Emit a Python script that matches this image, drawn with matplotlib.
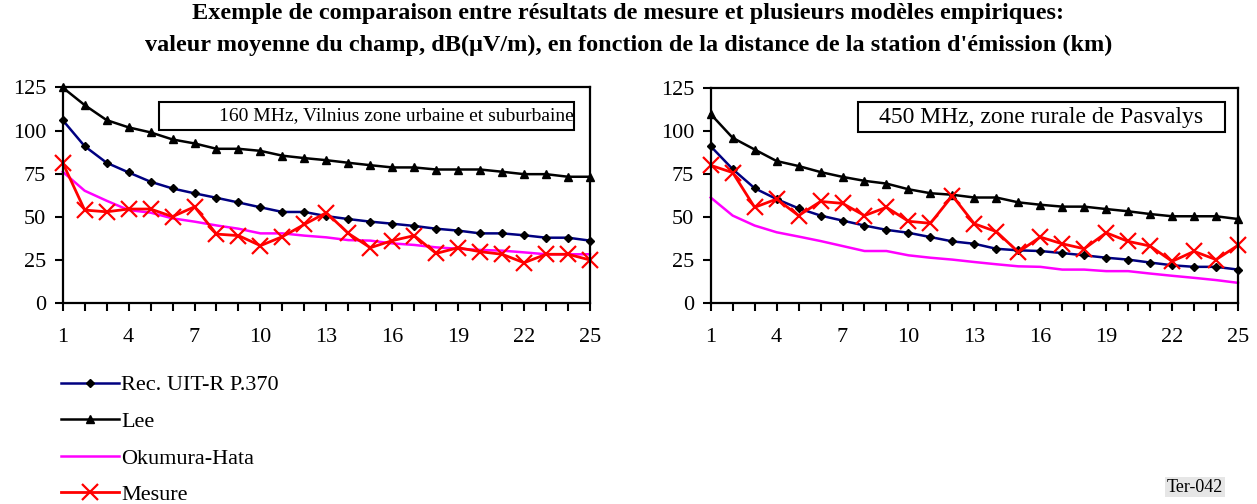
import matplotlib
matplotlib.use("Agg")
from matplotlib import pyplot as plt
from matplotlib.patches import Rectangle

plt.rcParams['font.family'] = ['Liberation Serif', 'DejaVu Serif']

dist_km = list(range(1, 26))
x_tick_labels = [str(d) if (d - 1) % 3 == 0 else '' for d in dist_km]

# 160 MHz, Vilnius
rec370_160 = [106.1, 91.0, 81.4, 75.8, 70.4, 66.5, 63.7, 61.1, 58.4, 55.6, 52.9, 52.9, 50.5,
              48.8, 47.3, 46.1, 44.8, 43.2, 42.1, 40.5, 40.5, 39.4, 38.0, 38.0, 36.3]
lee_160 = [125.0, 114.8, 106.1, 101.9, 99.0, 94.9, 92.6, 89.5, 89.5, 88.3, 85.5, 84.1, 82.9,
           81.4, 80.0, 78.7, 78.7, 77.5, 77.5, 77.5, 76.2, 74.8, 74.8, 73.3, 73.3]
hata_160 = [76.2, 65.2, 59.4, 54.0, 52.5, 49.2, 47.3, 45.1, 43.2, 40.5, 40.5, 39.2, 38.2,
            36.6, 36.3, 34.7, 33.8, 32.4, 31.6, 30.9, 30.5, 29.5, 28.4, 28.4, 28.4]
mesure_160 = [81.4, 54.0, 53.0, 54.6, 54.6, 50.2, 55.9, 40.1, 39.2, 33.4, 38.6, 45.7, 52.5,
              40.5, 32.2, 36.3, 39.2, 28.9, 32.2, 29.9, 28.4, 23.5, 28.4, 28.4, 25.1]

# 450 MHz, Pasvalys
rec370_450 = [91.3, 78.0, 66.9, 60.6, 55.2, 51.0, 48.1, 45.2, 42.7, 41.0, 38.5, 36.0, 34.6,
              31.7, 30.8, 30.4, 29.2, 27.9, 26.5, 25.4, 23.7, 22.1, 21.2, 21.2, 19.6]
lee_450 = [110.0, 96.2, 89.4, 82.7, 79.8, 76.3, 73.5, 71.2, 69.6, 66.3, 64.0, 63.1, 61.5,
           61.5, 58.7, 57.3, 56.2, 56.2, 54.8, 53.5, 51.9, 50.6, 50.6, 50.6, 49.0]
hata_450 = [61.5, 51.0, 45.2, 41.3, 38.8, 36.2, 33.3, 30.4, 30.4, 27.9, 26.5, 25.4, 24.0,
            22.7, 21.5, 21.2, 19.6, 19.6, 18.7, 18.7, 17.3, 16.0, 14.8, 13.5, 11.9]
mesure_450 = [80.2, 76.0, 55.8, 60.6, 51.0, 59.2, 58.1, 51.0, 55.8, 47.7, 46.5, 62.5, 46.2,
              41.7, 29.8, 38.5, 34.6, 31.7, 41.0, 36.0, 33.3, 24.4, 30.2, 25.4, 33.7]

W, H = 1257, 504
fig = plt.figure(figsize=(W / 100, H / 100), dpi=100)


def fx(px):
    return px / W


def fy(py):
    return 1 - py / H


def draw_panel(ax, rec, lee, hata, mes):
    ax.plot(dist_km, rec, color='#000080', lw=1.8, marker='D', ms=4.5,
            mfc='black', mec='black', clip_on=False, label='Rec. UIT-R P.370')
    ax.plot(dist_km, lee, color='black', lw=1.8, marker='^', ms=6,
            mfc='black', mec='black', clip_on=False, label='Lee')
    ax.plot(dist_km, hata, color='#FF00FF', lw=1.8, clip_on=False, label='Okumura-Hata')
    ax.plot(dist_km, mes, color='#FF0000', lw=2.0, marker='x', ms=11, mew=1.6,
            clip_on=False, label='Mesure')
    ax.set_xlim(1, 25)
    ax.set_ylim(0, 125)
    ax.set_xticks(dist_km)
    ax.set_xticklabels(x_tick_labels)
    ax.set_yticks([0, 25, 50, 75, 100, 125])
    ax.tick_params(direction='out', length=6, width=1.5, labelsize=16)
    ax.tick_params(axis='x', pad=12)
    ax.tick_params(axis='y', pad=6)
    for s in ax.spines.values():
        s.set_linewidth(1.6)


ax1 = fig.add_axes([fx(62.7), fy(303.3), fx(590 - 62.7), (303.3 - 87.5) / H])
draw_panel(ax1, rec370_160, lee_160, hata_160, mesure_160)
ax2 = fig.add_axes([fx(710.7), fy(303.3), fx(1238 - 710.7), (303.3 - 88.3) / H])
draw_panel(ax2, rec370_450, lee_450, hata_450, mesure_450)

# label boxes
fig.add_artist(Rectangle((fx(159), fy(130)), fx(574 - 159), (130 - 102) / H,
                         fill=False, lw=1.5, ec='black', transform=fig.transFigure))
fig.text(fx(574), fy(116), '160 MHz, Vilnius zone urbaine et suburbaine',
         ha='right', va='center', fontsize=14)
fig.add_artist(Rectangle((fx(858), fy(132)), fx(1225 - 858), (132 - 102) / H,
                         fill=False, lw=1.5, ec='black', transform=fig.transFigure))
fig.text(fx(1041), fy(117), '450 MHz, zone rurale de Pasvalys',
         ha='center', va='center', fontsize=17)

fig.text(0.5, fy(14), 'Exemple de comparaison entre résultats de mesure et plusieurs modèles empiriques:',
         ha='center', va='center', fontsize=17.5, fontweight='bold')
fig.text(0.5, fy(45), "valeur moyenne du champ, dB(\u03bcV/m), en fonction de la distance de la station d'émission (km)",
         ha='center', va='center', fontsize=17.5, fontweight='bold')

handles, labels = ax1.get_legend_handles_labels()
fig.legend(handles, labels, loc='upper left', bbox_to_anchor=(fx(52), fy(366)),
           frameon=False, fontsize=16, handlelength=2.6, handletextpad=0.1,
           labelspacing=0.72, borderaxespad=0)

fig.text(fx(1195), fy(487), 'Ter-042', ha='center', va='center', fontsize=13,
         bbox=dict(boxstyle='square,pad=0.1', fc='#e6e6e6', ec='none'))

fig.savefig('out.png', dpi=100)
